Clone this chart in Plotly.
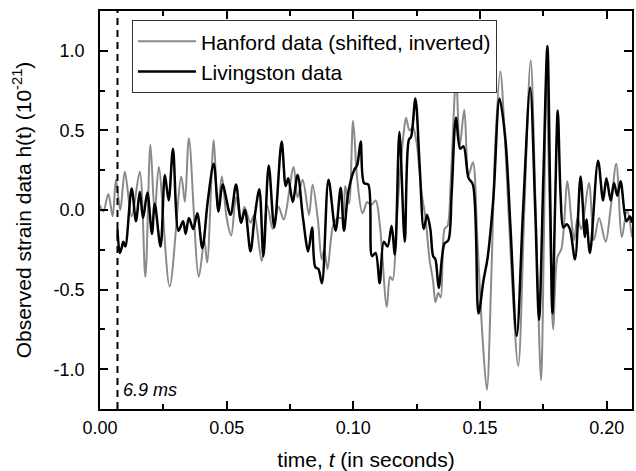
import plotly.graph_objects as go

# Hanford (shifted, inverted) — time (s), strain (1e-21)
hanford_t = [0.0000, 0.0013, 0.0033, 0.0050, 0.0063, 0.0080, 0.0098, 0.0125, 0.0157, 0.0179,
             0.0199, 0.0216, 0.0232, 0.0275, 0.0321, 0.0335, 0.0351, 0.0390, 0.0412, 0.0423,
             0.0449, 0.0465, 0.0481, 0.0500, 0.0518, 0.0537, 0.0557, 0.0570, 0.0594, 0.0609,
             0.0638, 0.0660, 0.0682, 0.0705, 0.0725, 0.0764, 0.0780, 0.0800, 0.0825, 0.0839,
             0.0860, 0.0875, 0.0885, 0.0898, 0.0920, 0.0940, 0.0957, 0.0968, 0.0983, 0.0999,
             0.1015, 0.1036, 0.1055, 0.1070, 0.1088, 0.1105, 0.1132, 0.1145, 0.1155, 0.1170,
             0.1185, 0.1200, 0.1208, 0.1222, 0.1235, 0.1250, 0.1270, 0.1285, 0.1300, 0.1315,
             0.1324, 0.1335, 0.1345, 0.1360, 0.1372, 0.1385, 0.1406, 0.1420, 0.1438, 0.1455,
             0.1472, 0.1490, 0.1510, 0.1527, 0.1545, 0.1560, 0.1580, 0.1600, 0.1625, 0.1651,
             0.1675, 0.1700, 0.1720, 0.1741, 0.1752, 0.1762, 0.1775, 0.1789, 0.1805, 0.1822,
             0.1845, 0.1860, 0.1872, 0.1885, 0.1900, 0.1930, 0.1950, 0.1970, 0.1996, 0.2015,
             0.2038, 0.2060, 0.2080, 0.2100]
hanford_h = [0.03, -0.01, 0.10, -0.04, 0.19, 0.00, 0.24, -0.04, 0.24, -0.42,
             0.41, -0.02, 0.27, -0.48, 0.21, 0.05, 0.45, -0.42, -0.19, -0.33,
             0.44, 0.00, 0.21, -0.05, -0.16, 0.08, -0.08, 0.02, -0.08, -0.03,
             -0.32, 0.03, -0.12, 0.02, -0.06, 0.27, 0.08, 0.19, -0.03, 0.16,
             -0.06, -0.31, -0.25, -0.37, -0.10, -0.05, -0.05, 0.15, 0.04, 0.56,
             0.20, -0.02, 0.05, 0.03, 0.06, -0.10, -0.61, -0.42, -0.44, -0.10,
             0.25, 0.50, 0.58, 0.50, 0.52, 0.42, 0.10, -0.05, -0.30, -0.45,
             -0.58, -0.52, -0.55, -0.12, -0.10, 0.20, 0.84, 0.40, 0.63, 0.22,
             0.30, -0.20, -0.80, -1.13, -0.40, 0.40, 0.87, 0.40, -0.40, -0.98,
             0.00, 0.94, 0.00, -1.07, -0.20, 0.85, 0.00, -0.75, -0.30, -0.24,
             0.18, -0.05, -0.19, -0.05, -0.12, 0.17, -0.19, -0.05, -0.20, 0.00,
             0.29, -0.17, 0.00, -0.17]

# Livingston — time (s), strain (1e-21)
livingston_t = [0.0069, 0.0078, 0.0085, 0.0092, 0.0100, 0.0125, 0.0142, 0.0157, 0.0170, 0.0187,
                0.0205, 0.0216, 0.0239, 0.0256, 0.0271, 0.0288, 0.0310, 0.0328, 0.0338, 0.0351,
                0.0368, 0.0384, 0.0404, 0.0425, 0.0449, 0.0468, 0.0484, 0.0515, 0.0537, 0.0557,
                0.0572, 0.0594, 0.0610, 0.0629, 0.0645, 0.0666, 0.0688, 0.0717, 0.0733, 0.0743,
                0.0761, 0.0780, 0.0802, 0.0822, 0.0837, 0.0850, 0.0862, 0.0876, 0.0902, 0.0930,
                0.0950, 0.0963, 0.0980, 0.1003, 0.1015, 0.1029, 0.1042, 0.1059, 0.1074, 0.1088,
                0.1104, 0.1120, 0.1135, 0.1151, 0.1164, 0.1182, 0.1203, 0.1219, 0.1228, 0.1245,
                0.1262, 0.1278, 0.1291, 0.1304, 0.1315, 0.1324, 0.1337, 0.1350, 0.1360, 0.1375,
                0.1388, 0.1405, 0.1422, 0.1435, 0.1455, 0.1472, 0.1494, 0.1514, 0.1530, 0.1553,
                0.1577, 0.1600, 0.1620, 0.1645, 0.1670, 0.1698, 0.1718, 0.1733, 0.1750, 0.1766,
                0.1776, 0.1786, 0.1796, 0.1807, 0.1818, 0.1829, 0.1842, 0.1855, 0.1875, 0.1897,
                0.1914, 0.1920, 0.1934, 0.1966, 0.1986, 0.1999, 0.2016, 0.2029, 0.2042, 0.2055,
                0.2078, 0.2092, 0.2100]
livingston_h = [-0.12, -0.27, -0.24, -0.20, -0.23, 0.135, -0.07, 0.115, -0.05, 0.11,
                -0.15, 0.04, -0.23, 0.22, 0.06, 0.385, -0.13, -0.07, -0.15, -0.05,
                -0.12, -0.02, -0.24, 0.05, 0.29, -0.01, 0.16, -0.03, 0.16, -0.08,
                0.00, -0.26, -0.05, 0.13, -0.29, 0.28, -0.11, 0.43, 0.15, 0.20,
                0.05, 0.22, -0.06, -0.26, -0.11, -0.36, -0.37, -0.46, 0.19, -0.13,
                0.14, -0.13, 0.11, 0.25, 0.28, 0.43, 0.17, 0.16, -0.29, -0.27,
                -0.46, -0.20, -0.23, -0.10, -0.28, 0.49, -0.20, 0.44, 0.46, 0.70,
                0.27, -0.12, -0.03, -0.12, -0.29, -0.31, -0.49, -0.30, -0.21, -0.19,
                0.10, 0.58, 0.385, 0.40, 0.20, 0.16, -0.65, -0.44, -0.30, 0.08,
                0.70, 0.45, -0.10, -0.79, 0.00, 0.77, 0.00, -0.69, 0.20, 1.03,
                0.20, -0.65, 0.00, 0.625, 0.10, -0.11, -0.09, -0.12, -0.31, 0.21,
                -0.17, -0.06, -0.27, 0.31, 0.06, 0.20, 0.06, 0.17, 0.09, 0.18,
                -0.07, -0.04, -0.08]

marker_t = 0.0069
marker_label = "6.9 ms"
x_ticks = [0.00, 0.05, 0.10, 0.15, 0.20]
y_ticks = [-1.0, -0.5, 0.0, 0.5, 1.0]

FONT = "Liberation Sans, Arial, sans-serif"

fig = go.Figure()
fig.add_trace(go.Scatter(
    x=hanford_t, y=hanford_h, mode="lines",
    name="Hanford data (shifted, inverted)",
    line=dict(color="#8a8a8a", width=2, shape="spline", smoothing=0.9),
))
fig.add_trace(go.Scatter(
    x=livingston_t, y=livingston_h, mode="lines",
    name="Livingston data",
    line=dict(color="#000000", width=2.5, shape="spline", smoothing=0.9),
))

fig.add_shape(type="line", x0=marker_t, x1=marker_t, y0=0, y1=1, yref="paper",
              line=dict(color="black", width=2, dash="7px,5px"))
fig.add_annotation(x=marker_t, y=-1.13, text="<i>" + marker_label + "</i>",
                   showarrow=False, xanchor="left", xshift=4,
                   font=dict(family=FONT, size=18, color="black"))

axis_common = dict(
    showline=True, linecolor="black", linewidth=1.5, mirror="ticks",
    ticks="inside", ticklen=8, tickwidth=1.5, tickcolor="black",
    showgrid=False, zeroline=False,
    tickfont=dict(family=FONT, size=18, color="black"),
)

fig.update_xaxes(
    range=[0, 0.21], tickvals=x_ticks, ticktext=[f"{v:.2f}" for v in x_ticks],
    minor=dict(ticks="inside", ticklen=5, tickwidth=1.5, tickcolor="black", dtick=0.025, tick0=0),
    title=dict(text="time, <i>t</i> (in seconds)", font=dict(family=FONT, size=21, color="black"), standoff=16),
    ticklabelstandoff=2,
    **axis_common,
)
fig.update_yaxes(
    range=[-1.25, 1.25], tickvals=y_ticks, ticktext=[f"{v:.1f}" for v in y_ticks],
    minor=dict(ticks="inside", ticklen=5, tickwidth=1.5, tickcolor="black", dtick=0.25, tick0=0),
    title=dict(text="Observed strain data h(t) (10<sup>-21</sup>)", font=dict(family=FONT, size=21, color="black"), standoff=16),
    ticklabelstandoff=10,
    **axis_common,
)

fig.update_layout(
    width=636, height=471,
    margin=dict(l=100, r=2, t=11, b=62),
    plot_bgcolor="white", paper_bgcolor="white",
    showlegend=True,
    legend=dict(x=0.06, y=0.977, xanchor="left", yanchor="top",
                bgcolor="white", bordercolor="#333333", borderwidth=1,
                font=dict(family=FONT, size=21, color="black"),
                tracegroupgap=0, itemwidth=58),
)

# remove the page's default body margin so the figure fills the window exactly
fig.write_html("out.html",
               config={"displayModeBar": False},
               post_script="document.body.style.margin='0';document.body.style.overflow='hidden';")
